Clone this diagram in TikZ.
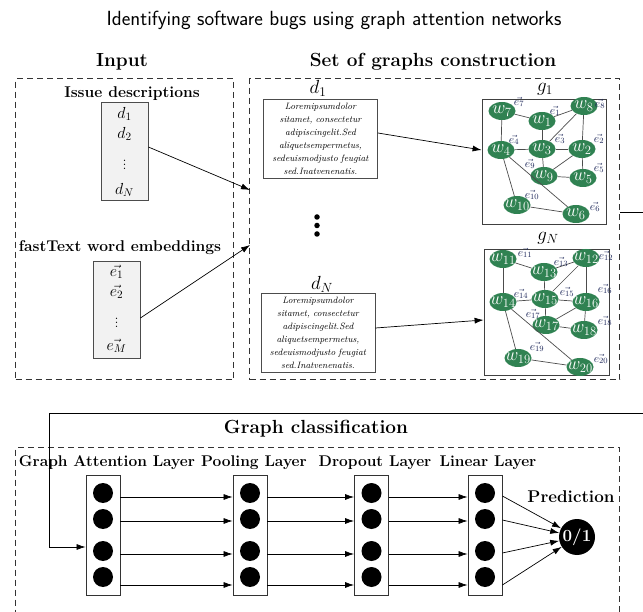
\documentclass[tikz,border=0pt]{standalone}
\usepackage{fix-cm}
\usepackage{amsmath}
\usetikzlibrary{arrows.meta,shapes.geometric,calc}
\definecolor{nodegreen}{RGB}{48,130,82}
\definecolor{boxgray}{RGB}{242,242,242}
\definecolor{elab}{RGB}{30,40,90}
\tikzset{
 panel/.style={draw=black!80, dash pattern=on 6pt off 4pt, line width=1.1pt, rectangle, inner sep=0pt, anchor=north west},
 hdr/.style={font=\fontsize{19}{22}\selectfont\bfseries},
 sub/.style={font=\fontsize{15.6}{18}\selectfont\bfseries},
 listbox/.style={draw=black!70, fill=boxgray, line width=0.8pt, inner sep=0pt},
 listtxt/.style={font=\fontsize{16}{16}\selectfont, inner sep=0pt},
 txtbox/.style={draw=black!70, line width=0.8pt, fill=white, align=center, font=\fontsize{9.2}{13}\selectfont\itshape, inner sep=0pt, minimum height=79pt, text width=114pt},
 dlab/.style={font=\fontsize{19}{19}\selectfont, inner sep=0pt},
 gbox/.style={draw=black!75, line width=0.8pt, inner sep=0pt},
 wnode/.style={ellipse, fill=nodegreen, text=white, minimum width=27pt, minimum height=18pt, inner sep=-4.5pt, font=\fontsize{18}{18}\selectfont},
 elabel/.style={font=\fontsize{11.5}{11.5}\selectfont, text=elab, inner sep=0pt},
 gedge/.style={draw=black!70, line width=0.7pt},
 arr/.style={-{Latex[length=9pt,width=6pt]}, line width=0.7pt},
 layerbox/.style={draw=black!80, line width=0.8pt, minimum width=34pt, minimum height=120pt, inner sep=0pt},
 neuron/.style={circle, fill=black, minimum size=20pt, inner sep=0pt},
 laylab/.style={font=\fontsize{15.5}{18}\selectfont\bfseries, inner sep=0pt},
 bigdot/.style={circle, fill=black, minimum size=5.5pt, inner sep=0pt},
}
\begin{document}
\begin{tikzpicture}[x=1pt,y=-1pt]
\useasboundingbox (0,0) rectangle (643,612);
\clip (0,0) rectangle (643,612);
% title
\node[font=\fontsize{20.5}{24}\selectfont\sffamily] (title) at (334,20) {Identifying software bugs using graph attention networks};
% panels
\node[panel, minimum width=218pt, minimum height=301pt] (inpanel) at (15,78) {};
\node[panel, minimum width=370pt, minimum height=301pt] (grpanel) at (249,78) {};
\node[panel, minimum width=604pt, minimum height=200pt] (clpanel) at (15,447) {};
\node[hdr] (inhdr) at (122,62) {Input};
\node[hdr] (grhdr) at (433,62) {Set of graphs construction};
\node[hdr] (clhdr) at (316,429) {Graph classification};
% input panel
\node[sub] (issuelab) at (132,94) {Issue descriptions};
\node[listbox, minimum width=47pt, minimum height=98pt] (issue) at (124.5,151) {};
\node[listtxt] (d1i) at (124.5,114) {$d_1$};
\node[listtxt] (d2i) at (124.5,134) {$d_2$};
\node[listtxt] (dvi) at (124.5,162) {$\vdots$};
\node[listtxt] (dNi) at (124.5,190) {$d_N$};
\node[sub] (emblab) at (120,248) {fastText word embeddings};
\node[listbox, minimum width=47pt, minimum height=97pt] (emb) at (116.5,309.5) {};
\node[listtxt] (e1i) at (116.5,272) {$\vec{e_1}$};
\node[listtxt] (e2i) at (116.5,292) {$\vec{e_2}$};
\node[listtxt] (evi) at (116.5,320) {$\vdots$};
\node[listtxt] (eMi) at (116.5,346) {$\vec{e_M}$};
\coordinate (in1) at (250,190);
\coordinate (in2) at (250,245);
\draw[arr] (issue.east |- 0,147) -- (in1);
\draw[arr] (emb.east |- 0,318) -- (in2);
% text boxes
\node[dlab] (d1lab) at (318,88) {$d_1$};
\node[txtbox] (t1) at (320.5,138.5) {Loremipsumdolor\\ sitamet, consectetur\\ adipiscingelit.Sed\\ aliquetsempermetus,\\ sedeuismodjusto feugiat\\ sed.Inatvenenatis.};
\node[dlab] (dNlab) at (322,284) {$d_N$};
\node[txtbox] (tN) at (318,332.5) {Loremipsumdolor\\ sitamet, consectetur\\ adipiscingelit.Sed\\ aliquetsempermetus,\\ sedeuismodjusto feugiat\\ sed.Inatvenenatis.};
\node[bigdot] (v1) at (317,217) {};
\node[bigdot] (v2) at (317,225.5) {};
\node[bigdot] (v3) at (317,234) {};
% graph boxes
\node[gbox, minimum width=124pt, minimum height=125pt] (g1) at (544,161.5) {};
\node[dlab] (g1lab) at (545,89) {$g_1$};
\node[gbox, minimum width=125pt, minimum height=126pt] (gN) at (546.5,312) {};
\node[dlab] (gNlab) at (548,238) {$g_N$};
\draw[arr] (t1.east |- 0,133) -- (g1.west |- 0,150);
\draw[arr] (tN.east |- 0,328) -- (gN.west |- 0,320);
% graph 1
\node[wnode] (w7) at (502,111) {$w_7$};
\node[wnode] (w1) at (542,121) {$w_1$};
\node[wnode] (w8) at (584,106) {$w_8$};
\node[wnode] (w4) at (501,150) {$w_4$};
\node[wnode] (w3) at (542,149) {$w_3$};
\node[wnode] (w2) at (582,149) {$w_2$};
\node[wnode] (w9) at (544,176) {$w_9$};
\node[wnode] (w5) at (583,178) {$w_5$};
\node[wnode] (w10) at (517,205) {$w_{10}$};
\node[wnode] (w6) at (576,214) {$w_6$};
\foreach \a/\b in {w7/w1,w1/w8,w7/w4,w1/w3,w8/w3,w8/w2,w4/w3,w3/w2,w3/w9,w2/w9,w9/w5,w2/w5,w4/w10,w4/w6,w10/w6}
  \draw[gedge] (\a) -- (\b);
\node[elabel] (e7) at (519,102) {$\vec{e_7}$};
\node[elabel] (e1) at (555,111) {$\vec{e_1}$};
\node[elabel] (e8) at (600,104) {$\vec{e_8}$};
\node[elabel] (e4) at (514,140) {$\vec{e_4}$};
\node[elabel] (e3) at (560,139) {$\vec{e_3}$};
\node[elabel] (e2) at (599,139) {$\vec{e_2}$};
\node[elabel] (e9) at (530,164) {$\vec{e_9}$};
\node[elabel] (e5) at (599,168) {$\vec{e_5}$};
\node[elabel] (e10) at (532,195) {$\vec{e_{10}}$};
\node[elabel] (e6) at (595,207) {$\vec{e_6}$};
% graph N
\node[wnode] (w11) at (503,259) {$w_{11}$};
\node[wnode] (w13) at (544,272) {$w_{13}$};
\node[wnode] (w12) at (586,258) {$w_{12}$};
\node[wnode] (w14) at (503,302) {$w_{14}$};
\node[wnode] (w15) at (545,299) {$w_{15}$};
\node[wnode] (w16) at (586,302) {$w_{16}$};
\node[wnode] (w17) at (546,325) {$w_{17}$};
\node[wnode] (w18) at (584,330) {$w_{18}$};
\node[wnode] (w19) at (518,358) {$w_{19}$};
\node[wnode] (w20) at (580,367) {$w_{20}$};
\foreach \a/\b in {w11/w13,w13/w12,w11/w14,w13/w15,w12/w15,w12/w16,w14/w15,w15/w16,w15/w17,w16/w17,w17/w18,w16/w18,w14/w19,w14/w20,w19/w20}
  \draw[gedge] (\a) -- (\b);
\node[elabel] (e11) at (525,253) {$\vec{e_{11}}$};
\node[elabel] (e13) at (561,262) {$\vec{e_{13}}$};
\node[elabel] (e12) at (606,256) {$\vec{e_{12}}$};
\node[elabel] (e14) at (521,294) {$\vec{e_{14}}$};
\node[elabel] (e15) at (567,292) {$\vec{e_{15}}$};
\node[elabel] (e16) at (605,289) {$\vec{e_{16}}$};
\node[elabel] (e17) at (533,314) {$\vec{e_{17}}$};
\node[elabel] (e18) at (605,321) {$\vec{e_{18}}$};
\node[elabel] (e19) at (537,347) {$\vec{e_{19}}$};
\node[elabel] (e20) at (601,359) {$\vec{e_{20}}$};
% classification
\node[laylab] (l1) at (107,463) {Graph Attention Layer};
\node[laylab] (l2) at (254,463) {Pooling Layer};
\node[laylab] (l3) at (375,463) {Dropout Layer};
\node[laylab] (l4) at (488,463) {Linear Layer};
\node[laylab, font=\fontsize{17}{18}\selectfont\bfseries] (l5) at (571,497) {Prediction};
\node[layerbox] (gat) at (103,535) {};
\node[layerbox] (pool) at (250,535) {};
\node[layerbox] (drop) at (371.5,535) {};
\node[layerbox] (lin) at (485,535) {};
\foreach \n/\x in {gat/103,pool/250,drop/371.5,lin/485}{
  \node[neuron] (\n-1) at (\x,493) {};
  \node[neuron] (\n-2) at (\x,519) {};
  \node[neuron] (\n-3) at (\x,551) {};
  \node[neuron] (\n-4) at (\x,577) {};
}
\node[circle, fill=black, minimum size=36pt, inner sep=0pt, text=white, font=\fontsize{17}{17}\selectfont\bfseries] (pred) at (577,537) {0/1};
\foreach \s/\t in {gat/pool,pool/drop,drop/lin}{
  \foreach \yy in {497,521,554,585}
    \draw[arr] (\s.east |- 0,\yy) -- (\t.west |- 0,\yy);
}
\foreach \yy in {496,520,553,585}
  \draw[arr] (lin.east |- 0,\yy) -- (pred);
% feedback connector
\coordinate (fbA) at (646,212);
\coordinate (fbB) at (646,413);
\coordinate (fbC) at (49,413);
\coordinate (fbD) at (49,547);
\draw[arr] (grpanel.east |- 0,212) -- (fbA) -- (fbB) -- (fbC) -- (fbD) -- (gat.west |- fbD);
\end{tikzpicture}
\end{document}
